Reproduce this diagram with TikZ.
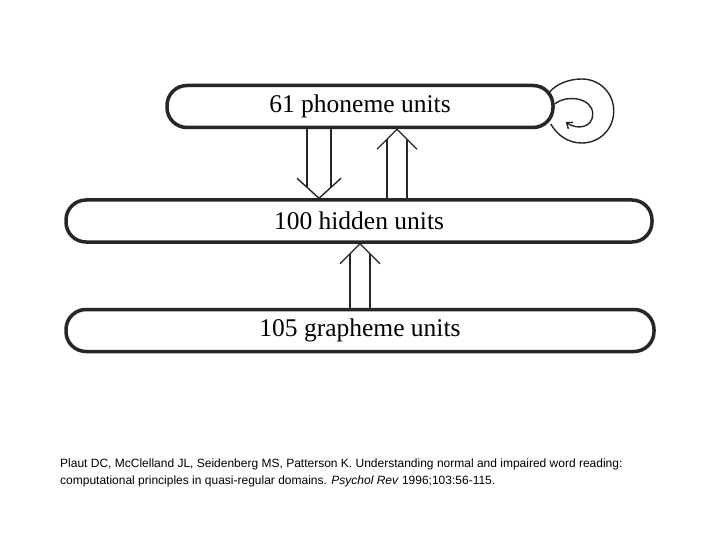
\documentclass[tikz,border=0pt]{standalone}
\usepackage{fontspec}
\setmainfont{Liberation Serif}
\newfontfamily\capfont{Liberation Sans}
\usetikzlibrary{calc,arrows.meta}
\begin{document}
\begin{tikzpicture}[x=1pt,y=-1pt,
  layer/.style={draw=black!85, line width=3.5pt, rounded corners=20pt, minimum height=42pt, inner sep=0pt, font=\fontsize{25.5}{27}\selectfont},
  conn/.style={line width=1.4pt, black!85},
  captext/.style={anchor=base west, inner sep=0pt, font=\capfont\fontsize{12}{14}\selectfont}]
\useasboundingbox[fill=white] (0,0) rectangle (720,540);
\node[layer, minimum width=386pt] (phon) at (360,106.5) {61 phoneme units};
\node[layer, minimum width=586pt] (hid) at (359,221) {100 hidden units};
\node[layer, minimum width=588pt] (gra) at (360,330.5) {105 grapheme units};
% phoneme -> hidden (down)
\draw[conn] ($(phon.south)+(-53,0)$) -- ($(hid.north)+(-52,-11)$);
\draw[conn] ($(phon.south)+(-29,0)$) -- ($(hid.north)+(-28,-11)$);
\draw[conn] ($(hid.north)+(-62,-20)$) -- ($(hid.north)+(-40,0)$) -- ($(hid.north)+(-18,-20)$);
% hidden -> phoneme (up)
\draw[conn] ($(hid.north)+(28,0)$) -- ($(phon.south)+(27,10)$);
\draw[conn] ($(hid.north)+(48,0)$) -- ($(phon.south)+(47,10)$);
\draw[conn] ($(phon.south)+(17,20)$) -- ($(phon.south)+(37,0)$) -- ($(phon.south)+(57,20)$);
% grapheme -> hidden (up)
\draw[conn] ($(gra.north)+(-10,0)$) -- ($(hid.south)+(-9,10)$);
\draw[conn] ($(gra.north)+(10,0)$) -- ($(hid.south)+(11,10)$);
\draw[conn] ($(hid.south)+(-19,20)$) -- ($(hid.south)+(1,0)$) -- ($(hid.south)+(21,20)$);
% self loop on phoneme units
\coordinate (lp) at ($(phon.east)+(0,3.5)$);
\draw[conn] ($(lp)+(-6,-17)$) .. controls ($(lp)+(1,-26)$) and ($(lp)+(14,-31)$) .. ($(lp)+(27,-31)$)
  .. controls ($(lp)+(45,-31)$) and ($(lp)+(59,-17)$) .. ($(lp)+(59,1)$)
  .. controls ($(lp)+(59,19)$) and ($(lp)+(45,33)$) .. ($(lp)+(27,33)$)
  .. controls ($(lp)+(14,33)$) and ($(lp)+(3,26)$) .. ($(lp)+(-4,14)$);
\draw[conn, -{Straight Barb[length=5pt,width=8pt]}] ($(lp)+(0,-6)$) .. controls ($(lp)+(12,-16)$) and ($(lp)+(38,-12)$) .. ($(lp)+(38,4)$)
  .. controls ($(lp)+(38,18)$) and ($(lp)+(22,20)$) .. ($(lp)+(11,12)$);
% caption
\node[captext] (c1) at (60,467) {Plaut DC, McClelland JL, Seidenberg MS, Patterson K. Understanding normal and impaired word reading:};
\node[captext] (c2) at (60,484) {computational principles in quasi-regular domains. \textit{Psychol Rev} 1996;103:56-115.};
\end{tikzpicture}
\end{document}
